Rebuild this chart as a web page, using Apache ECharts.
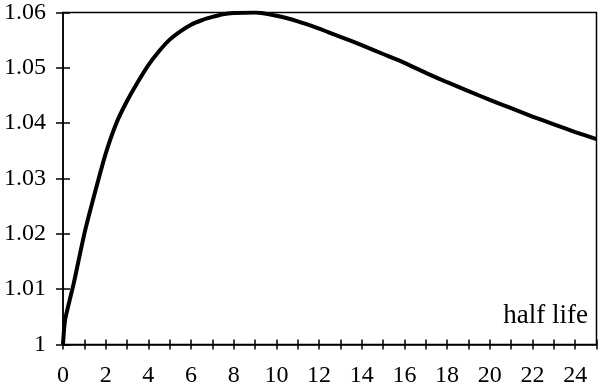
<!DOCTYPE html>
<html>
<head>
<meta charset="utf-8">
<script src="https://cdn.jsdelivr.net/npm/echarts@6/dist/echarts.min.js"></script>
<style>html,body{margin:0;padding:0;background:#fff}#c{width:600px;height:388px}</style>
</head>
<body>
<div id="c"></div>
<script>
var halfLife = [0, 0.1, 0.5, 1, 1.5, 2, 2.5, 3, 3.5, 4, 4.5, 5, 5.5, 6, 6.5, 7, 7.5, 8, 9, 10, 11, 12, 13, 14, 15, 16, 17, 18, 19, 20, 21, 22, 23, 24, 25];
var values = [1.000, 1.0045, 1.0110, 1.0200, 1.0275, 1.0345, 1.0400, 1.0440, 1.0474, 1.0505, 1.0530, 1.0551, 1.0566, 1.0578, 1.0586, 1.0592, 1.0597, 1.0599, 1.0600, 1.0594, 1.0584, 1.0571, 1.0556, 1.0541, 1.0525, 1.0509, 1.0491, 1.0474, 1.0458, 1.0442, 1.0427, 1.0412, 1.0398, 1.0384, 1.0371];
var axisTitle = 'half life';

var FONT = 'Liberation Serif';
var chart = echarts.init(document.getElementById('c'));
var pts = halfLife.map(function (x, i) { return [x, values[i]]; });
chart.setOption({
  animation: false,
  backgroundColor: '#fff',
  title: {
    text: axisTitle, right: 7, top: 297,
    textStyle: { fontFamily: FONT, fontSize: 27, fontWeight: 'normal', color: '#000' }
  },
  grid: { left: 63, top: 12.5, right: 3.5, bottom: 43.5, show: true, borderColor: '#000', borderWidth: 1.5, backgroundColor: 'transparent' },
  xAxis: [{
    type: 'value', min: 0, max: 25, interval: 1,
    axisLine: { show: true, lineStyle: { color: '#000', width: 1.5 } },
    axisTick: { show: true, inside: false, length: 5, lineStyle: { color: '#000', width: 1.5 } },
    axisLabel: { fontFamily: FONT, fontSize: 24, color: '#000', margin: 19,
      formatter: function (v) { return (v % 2 === 0 && v < 25) ? String(v) : ''; } },
    splitLine: { show: false }
  }, {
    type: 'value', min: 0, max: 25, interval: 1, position: 'bottom',
    axisLine: { show: false },
    axisTick: { show: true, inside: true, length: 5, lineStyle: { color: '#000', width: 1.5 } },
    axisLabel: { show: false }, splitLine: { show: false }
  }],
  yAxis: [{
    type: 'value', min: 1, max: 1.06, interval: 0.01,
    axisLine: { show: true, lineStyle: { color: '#000', width: 1.5 } },
    axisTick: { show: true, inside: false, length: 7, lineStyle: { color: '#000', width: 1.5 } },
    axisLabel: { fontFamily: FONT, fontSize: 24, color: '#000', margin: 17,
      formatter: function (v) { return Math.abs(v - 1) < 1e-9 ? '1' : v.toFixed(2); } },
    splitLine: { show: false }
  }, {
    type: 'value', min: 1, max: 1.06, interval: 0.01, position: 'left',
    axisLine: { show: false },
    axisTick: { show: true, inside: true, length: 7, lineStyle: { color: '#000', width: 1.5 } },
    axisLabel: { show: false }, splitLine: { show: false }
  }],
  series: [{
    type: 'line', data: pts, xAxisIndex: 0, yAxisIndex: 0,
    showSymbol: false, smooth: 0.2,
    lineStyle: { color: '#000', width: 4 }
  }]
});
</script>
</body>
</html>
